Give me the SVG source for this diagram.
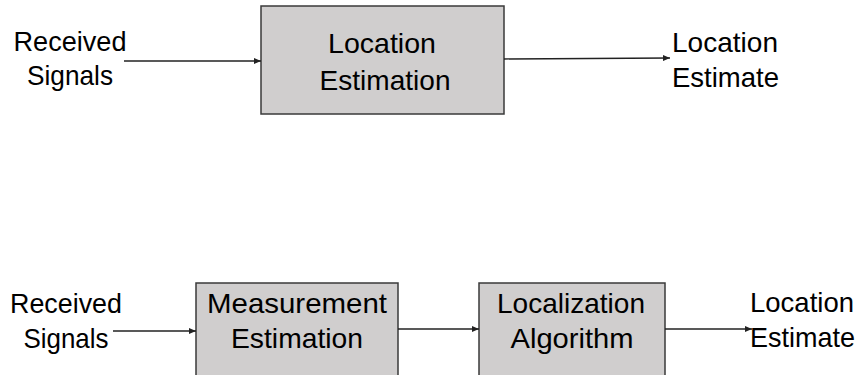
<svg xmlns="http://www.w3.org/2000/svg" width="862" height="375" viewBox="0 0 862 375">
  <style>
    .box { fill: #d0cece; stroke: #3a3a3a; stroke-width: 1.5; }
    .t { font-family: "Liberation Sans", Arial, sans-serif; font-size: 28px; fill: #000; text-anchor: middle; }
    .s { text-anchor: start; }
    .c { stroke: #222; stroke-width: 1.3; fill: none; marker-end: url(#ah); }
  </style>
  <defs>
    <marker id="ah" markerUnits="userSpaceOnUse" markerWidth="8" markerHeight="6" refX="7" refY="3" orient="auto">
      <path d="M0,0 L7,3 L0,6 z" fill="#222"/>
    </marker>
  </defs>
  <rect width="862" height="375" fill="#fff"/>

  <g id="top-input">
    <text class="t" x="70" y="51" textLength="113" lengthAdjust="spacingAndGlyphs">Received</text>
    <text class="t" x="70" y="85" textLength="86" lengthAdjust="spacingAndGlyphs">Signals</text>
  </g>
  <g id="top-location-estimation">
    <rect class="box" x="261" y="6" width="243" height="108"/>
    <text class="t" x="382" y="53" textLength="108" lengthAdjust="spacingAndGlyphs">Location</text>
    <text class="t" x="385" y="90" textLength="131" lengthAdjust="spacingAndGlyphs">Estimation</text>
  </g>
  <g id="top-output">
    <text class="t s" x="672" y="52" textLength="106" lengthAdjust="spacingAndGlyphs">Location</text>
    <text class="t s" x="672" y="87" textLength="107" lengthAdjust="spacingAndGlyphs">Estimate</text>
  </g>

  <g id="bottom-input">
    <text class="t" x="66" y="313" textLength="112" lengthAdjust="spacingAndGlyphs">Received</text>
    <text class="t" x="66" y="348" textLength="85" lengthAdjust="spacingAndGlyphs">Signals</text>
  </g>
  <g id="measurement-estimation">
    <rect class="box" x="196" y="283" width="202" height="100"/>
    <text class="t" x="297" y="313" textLength="180" lengthAdjust="spacingAndGlyphs">Measurement</text>
    <text class="t" x="297" y="348" textLength="132" lengthAdjust="spacingAndGlyphs">Estimation</text>
  </g>
  <g id="localization-algorithm">
    <rect class="box" x="479" y="283" width="186" height="100"/>
    <text class="t" x="571" y="313" textLength="148" lengthAdjust="spacingAndGlyphs">Localization</text>
    <text class="t" x="572" y="348" textLength="123" lengthAdjust="spacingAndGlyphs">Algorithm</text>
  </g>
  <g id="bottom-output">
    <text class="t s" x="750" y="312" textLength="104" lengthAdjust="spacingAndGlyphs">Location</text>
    <text class="t s" x="750" y="347" textLength="105" lengthAdjust="spacingAndGlyphs">Estimate</text>
  </g>

  <g id="connectors">
    <line class="c" x1="124" y1="61" x2="261" y2="61"/>
    <line class="c" x1="504" y1="59" x2="670" y2="58"/>
    <line class="c" x1="113" y1="331" x2="196" y2="331"/>
    <line class="c" x1="398" y1="329" x2="479" y2="329"/>
    <line class="c" x1="665" y1="329" x2="752" y2="329"/>
  </g>
</svg>
